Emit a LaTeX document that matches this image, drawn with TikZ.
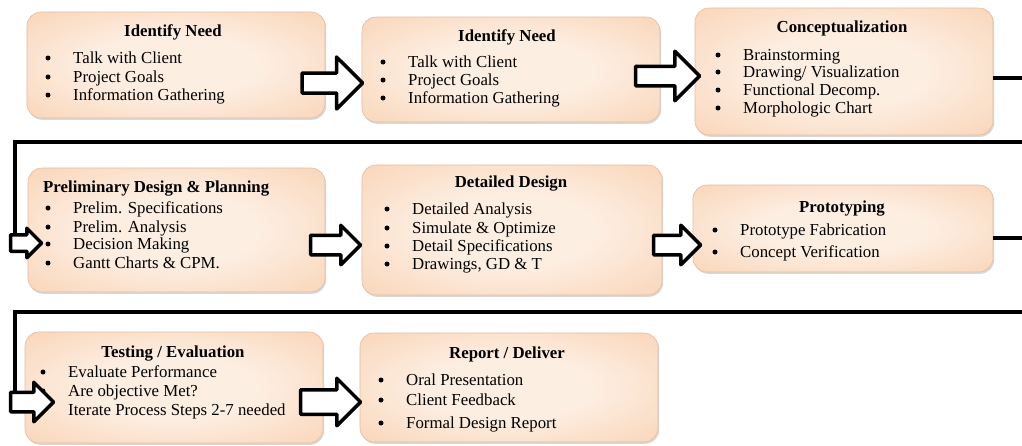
\documentclass[tikz,border=0pt]{standalone}
\usepackage{fontspec}
\setmainfont{Liberation Serif}
\usetikzlibrary{shapes.arrows,shadows}

\definecolor{peachlight}{RGB}{253,238,226}
\definecolor{peachmid}{RGB}{248,207,173}
\definecolor{peachdark}{RGB}{240,170,116}
\definecolor{peachedge}{RGB}{226,188,160}

\pgfdeclareradialshading{peachglow}{\pgfpoint{0bp}{0bp}}{color(0bp)=(peachlight); color(14bp)=(peachlight); color(42bp)=(peachmid); color(72bp)=(peachdark)}

\tikzset{
  box/.style={draw=peachedge, line width=0.6pt, rounded corners=14pt,
    shading=peachglow, inner sep=0pt,
    drop shadow={shadow xshift=1.2pt, shadow yshift=-1.8pt, opacity=0.3}},
  title/.style={font=\fontsize{16.8}{19}\selectfont\bfseries, inner sep=0pt, anchor=base},
  item/.style={font=\fontsize{16.8}{19}\selectfont, inner sep=0pt, anchor=base west},
  wire/.style={line width=4.5pt},
  blockarrow/.style={single arrow, draw=black, fill=white, line width=3.5pt,
    line join=round, inner xsep=0pt, single arrow head indent=0pt, anchor=tip}
}

\begin{document}
\begin{tikzpicture}[x=1pt,y=-1pt]

\clip (0,0) rectangle (1022,445);

% Boites
\node[box, minimum width=298pt, minimum height=106pt]
(needA) at (176,65) {};
\node[box, minimum width=298pt, minimum height=105pt]
(needB) at (511,69.5) {};
\node[box, minimum width=298pt, minimum height=127pt]
(concept) at (844,71.5) {};
\node[box, minimum width=297pt, minimum height=124pt]
(prelim) at (176.5,230) {};
\node[box, minimum width=300pt, minimum height=130pt]
(detail) at (512,230) {};
\node[box, minimum width=300pt, minimum height=87pt]
(proto) at (843,228.5) {};
\node[box, minimum width=298pt, minimum height=111pt]
(testing) at (174,387.5) {};
\node[box, minimum width=298pt, minimum height=109pt]
(report) at (509,387.5) {};

% Identify Need (1)
\node[title]
(needA-t) at (173,36)
{Identify Need};
\node[item] (needA-1) at (73,63) {Talk with Client};
\node[item] (needA-2) at (73,82) {Project Goals};
\node[item] (needA-3) at (73,100) {Information Gathering};

% Identify Need (2)
\node[title]
(needB-t) at (507,41)
{Identify Need};
\node[item] (needB-1) at (408,67) {Talk with Client};
\node[item] (needB-2) at (408,85) {Project Goals};
\node[item] (needB-3) at (408,103) {Information Gathering};

% Conceptualization
\node[title]
(concept-t) at (842,32)
{Conceptualization};
\node[item] (concept-1) at (743,60) {Brainstorming};
\node[item] (concept-2) at (743,77) {Drawing/ Visualization};
\node[item] (concept-3) at (743,95) {Functional Decomp.};
\node[item] (concept-4) at (743,113) {Morphologic Chart};

% Preliminary Design
\node[title, anchor=base west]
(prelim-t) at (43,192)
{Preliminary Design \& Planning};
\node[item] (prelim-1) at (73,213) {Prelim. Specifications};
\node[item] (prelim-2) at (73,232) {Prelim. Analysis};
\node[item] (prelim-3) at (73,249) {Decision Making};
\node[item] (prelim-4) at (73,268) {Gantt Charts \& CPM.};

% Detailed Design
\node[title]
(detail-t) at (511,187)
{Detailed Design};
\node[item] (detail-1) at (412,214) {Detailed Analysis};
\node[item] (detail-2) at (412,233) {Simulate \& Optimize};
\node[item] (detail-3) at (412,251) {Detail Specifications};
\node[item] (detail-4) at (412,269) {Drawings, GD \& T};

% Prototyping
\node[title]
(proto-t) at (842,212)
{Prototyping};
\node[item] (proto-1) at (740,235) {Prototype Fabrication};
\node[item] (proto-2) at (740,257) {Concept Verification};

% Testing
\node[title]
(testing-t) at (173,357)
{Testing / Evaluation};
\node[item] (testing-1) at (68,377) {Evaluate Performance};
\node[item] (testing-2) at (68,396) {Are objective Met?};
\node[item] (testing-3) at (68,415) {Iterate Process Steps 2-7 needed};

% Report
\node[title]
(report-t) at (507,358)
{Report / Deliver};
\node[item] (report-1) at (406,385) {Oral Presentation};
\node[item] (report-2) at (406,405) {Client Feedback};
\node[item] (report-3) at (406,428) {Formal Design Report};

% Puces
\foreach \p in {needA-1,needA-2,needA-3,needB-1,needB-2,needB-3,
  concept-1,concept-2,concept-3,concept-4,
  prelim-1,prelim-2,prelim-3,prelim-4,
  detail-1,detail-2,detail-3,detail-4,proto-1,proto-2,
  testing-1,testing-2,testing-3,report-1,report-2,report-3}
  \fill ([xshift=-25pt,yshift=5pt]\p.base west) circle (2.5pt);

% Retours de ligne
\coordinate (bendA) at (1040,78);
\coordinate (turnA) at (15,142);
\coordinate (dropA) at (15,238);
\draw[wire] ([yshift=-6.5pt]concept.east) -- (bendA) |- (turnA) -- (dropA);

\coordinate (bendB) at (1040,238);
\coordinate (turnB) at (15,312);
\coordinate (dropB) at (15,396);
\draw[wire] ([yshift=-9.5pt]proto.east) -- (bendB) |- (turnB) -- (dropB);

% Fleches
\node[blockarrow, minimum height=60.5pt, inner ysep=8.25pt, single arrow head extend=16pt]
(arrA) at (365,83) {};
\node[blockarrow, minimum height=64pt, inner ysep=8pt, single arrow head extend=15pt]
(arrB) at (702,76) {};
\node[blockarrow, minimum height=31pt, inner ysep=6.5pt, single arrow head extend=6.5pt]
(arrC) at (44,243) {};
\node[blockarrow, minimum height=50pt, inner ysep=8pt, single arrow head extend=10pt]
(arrD) at (363,245) {};
\node[blockarrow, minimum height=47pt, inner ysep=8pt, single arrow head extend=10pt]
(arrE) at (703,245) {};
\node[blockarrow, minimum height=43pt, inner ysep=8pt, single arrow head extend=10pt]
(arrF) at (56,402) {};
\node[blockarrow, minimum height=60pt, inner ysep=10.5pt, single arrow head extend=11.5pt]
(arrG) at (363,402) {};

\end{tikzpicture}
\end{document}
